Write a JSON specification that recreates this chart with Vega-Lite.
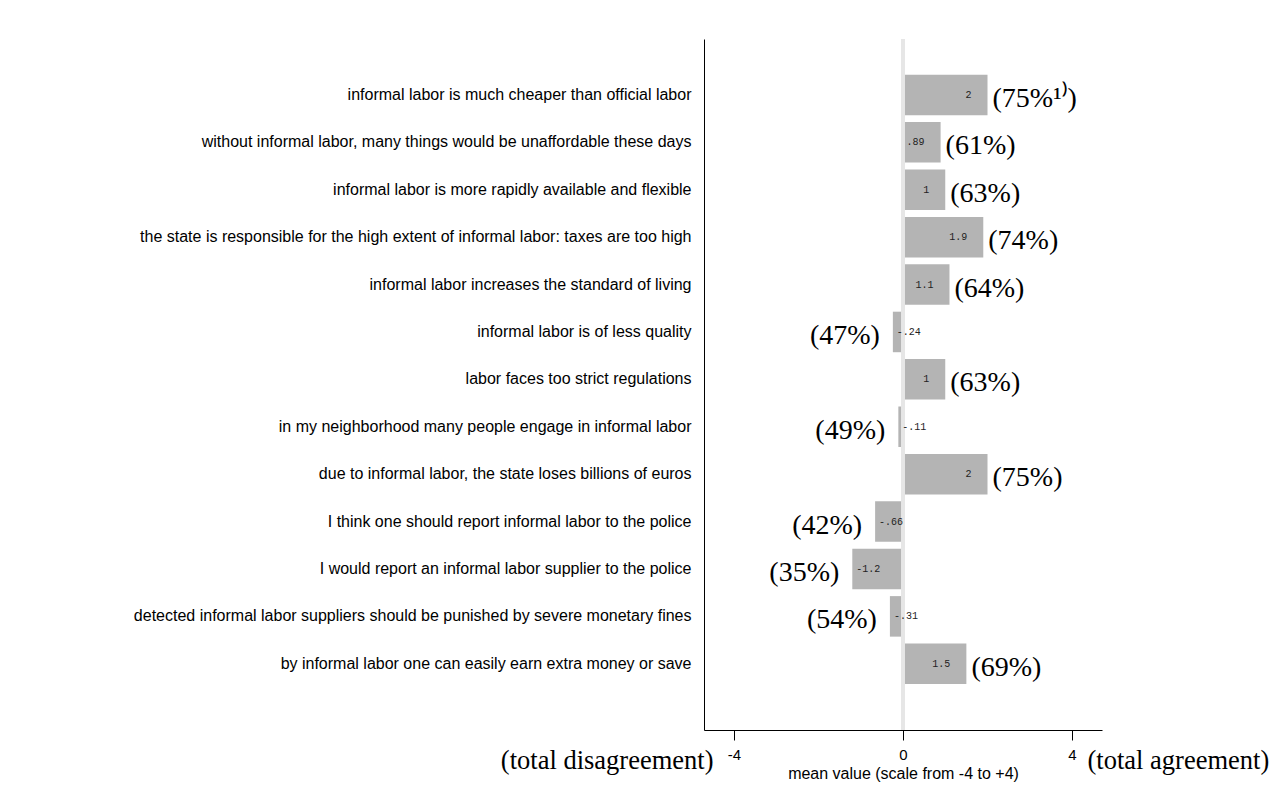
{
  "$schema": "https://vega.github.io/schema/vega-lite/v6.json",
  "autosize": {"type": "none"},
  "padding": {"left": 704, "top": 39, "right": 183, "bottom": 57},
  "width": 398,
  "height": 691,
  "background": "white",
  "config": {"view": {"stroke": null}, "font": "Liberation Sans"},
  "datasets": {
    "items": [
      {"item": "informal labor is much cheaper than official labor", "mean": 2, "shown": "2", "pct": "(75%¹⁾)"},
      {"item": "without informal labor, many things would be unaffordable these days", "mean": 0.89, "shown": ".89", "pct": "(61%)"},
      {"item": "informal labor is more rapidly available and flexible", "mean": 1, "shown": "1", "pct": "(63%)"},
      {"item": "the state is responsible for the high extent of informal labor: taxes are too high", "mean": 1.9, "shown": "1.9", "pct": "(74%)"},
      {"item": "informal labor increases the standard of living", "mean": 1.1, "shown": "1.1", "pct": "(64%)"},
      {"item": "informal labor is of less quality", "mean": -0.24, "shown": "-.24", "pct": "(47%)"},
      {"item": "labor faces too strict regulations", "mean": 1, "shown": "1", "pct": "(63%)"},
      {"item": "in my neighborhood many people engage in informal labor", "mean": -0.11, "shown": "-.11", "pct": "(49%)"},
      {"item": "due to informal labor, the state loses billions of euros", "mean": 2, "shown": "2", "pct": "(75%)"},
      {"item": "I think one should report informal labor to the police", "mean": -0.66, "shown": "-.66", "pct": "(42%)"},
      {"item": "I would report an informal labor supplier to the police", "mean": -1.2, "shown": "-1.2", "pct": "(35%)"},
      {"item": "detected informal labor suppliers should be punished by severe monetary fines", "mean": -0.31, "shown": "-.31", "pct": "(54%)"},
      {"item": "by informal labor one can easily earn extra money or save", "mean": 1.5, "shown": "1.5", "pct": "(69%)"}
    ],
    "poles": [{"pole": -4}, {"pole": 4}]
  },
  "layer": [
    {
      "data": {"name": "items"},
      "layer": [
        {
          "mark": {"type": "bar", "color": "#b4b4b4"},
          "encoding": {
            "x": {
              "field": "mean", "type": "quantitative",
              "title": "mean value (scale from -4 to +4)",
              "scale": {"domain": [-4.71, 4.71], "nice": false, "zero": false},
              "axis": {
                "values": [-4, 0, 4], "grid": false, "tickSize": 10, "tickColor": "black",
                "domainColor": "black", "labelColor": "black", "labelFontSize": 15,
                "labelExpr": "datum.value < 0 ? '-' + abs(datum.value) : '' + datum.value",
                "labelFont": "Liberation Sans", "labelPadding": 7, "labelFlush": false,
                "titleFont": "Liberation Sans", "titleFontSize": 16, "titleFontWeight": "normal",
                "titleColor": "black", "titlePadding": 3
              }
            },
            "y": {
              "field": "item", "type": "nominal", "sort": null, "title": null,
              "scale": {"paddingInner": 0.145, "paddingOuter": 0.861, "align": 0.437},
              "axis": {
                "ticks": false, "domainColor": "black", "labelColor": "black",
                "labelFont": "Liberation Sans", "labelFontSize": 16, "labelPadding": 13,
                "labelLimit": 0
              }
            }
          }
        },
        {
          "mark": {"type": "rule", "color": "#e6e6e6", "strokeWidth": 3},
          "encoding": {"x": {"datum": 0, "type": "quantitative"}}
        },
        {
          "mark": {
            "type": "text", "font": "Liberation Mono", "fontSize": 10, "color": "#222222",
            "baseline": "middle",
            "align": {"expr": "datum.mean < 0 ? 'left' : 'right'"},
            "dx": {"expr": "datum.mean < 0 ? 4 : -16"}
          },
          "encoding": {
            "x": {"field": "mean", "type": "quantitative"},
            "y": {"field": "item", "type": "nominal", "sort": null},
            "text": {"field": "shown"}
          }
        },
        {
          "mark": {
            "type": "text", "font": "Liberation Serif", "fontSize": 28, "color": "black",
            "baseline": "middle", "dy": 4,
            "align": {"expr": "datum.mean < 0 ? 'right' : 'left'"},
            "dx": {"expr": "datum.mean < 0 ? -13 : 5"}
          },
          "encoding": {
            "x": {"field": "mean", "type": "quantitative"},
            "y": {"field": "item", "type": "nominal", "sort": null},
            "text": {"field": "pct"}
          }
        }
      ]
    },
    {
      "data": {"name": "poles"},
      "mark": {"type": "point", "opacity": 0},
      "encoding": {
        "x": {
          "field": "pole", "type": "quantitative",
          "scale": {"domain": [-4.71, 4.71], "nice": false, "zero": false},
          "axis": {
            "orient": "bottom", "values": [-4, 4], "ticks": false, "domain": false, "grid": false,
            "title": null,
            "labelExpr": "datum.value < 0 ? '(total disagreement)' : '(total agreement)'",
            "labelFont": "Liberation Serif", "labelFontSize": 26.5, "labelColor": "black",
            "labelAlign": {"condition": {"test": "datum.value < 0", "value": "right"}, "value": "left"},
            "labelOffset": {"condition": {"test": "datum.value < 0", "value": -21}, "value": 15},
            "labelBaseline": "middle", "labelPadding": 30, "labelFlush": false,
            "labelOverlap": false, "labelBound": false, "labelLimit": 0
          }
        }
      }
    }
  ],
  "resolve": {"scale": {"x": "independent"}, "axis": {"x": "independent"}}
}
